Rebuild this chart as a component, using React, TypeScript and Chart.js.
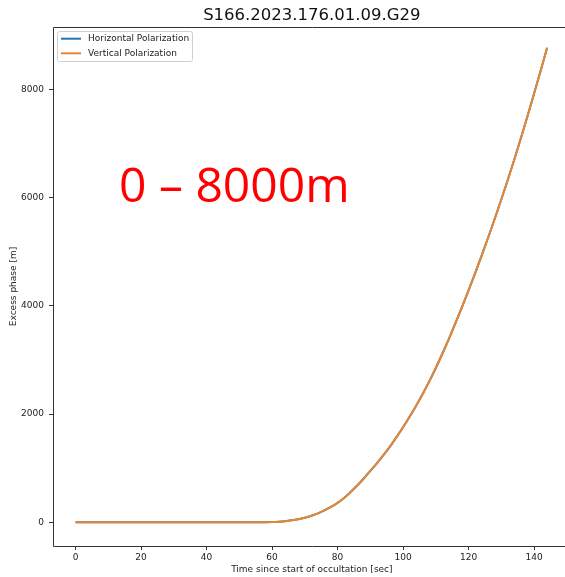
import { useEffect, useRef } from 'react';
import { Chart, registerables } from 'chart.js';

Chart.register(...registerables);

const TITLE = 'S166.2023.176.01.09.G29';
const X_LABEL = 'Time since start of occultation [sec]';
const Y_LABEL = 'Excess phase [m]';
const SERIES_NAMES = ['Horizontal Polarization', 'Vertical Polarization'];
const SERIES_COLORS = ['#1f77b4', '#ea8530'];
const ANNOTATION = '0 \u2013 8000m';

const timeSec = [
  0, 4, 8, 12, 16, 20, 24, 28, 32, 36, 40, 44, 48, 52, 56,
  58, 60, 62, 64, 66, 68, 70, 72, 74, 76, 78, 80, 82, 84, 86, 88, 90,
  92, 94, 96, 98, 100, 102, 104, 106, 108, 110, 112, 114, 116, 118, 120,
  122, 124, 126, 128, 130, 132, 134, 136, 138, 140, 142, 144,
];

const verticalPhase = [
  0, 0, 0, 0, 0, 0, 0, 0, 0, 0, 0, 0, 0, 0, 0,
  1, 4, 10, 20, 36, 57, 85, 120, 165, 220, 285, 360, 450, 560, 680, 810, 950,
  1090, 1240, 1400, 1575, 1758, 1952, 2156, 2372, 2604, 2852, 3116, 3392, 3680, 3978, 4286,
  4602, 4928, 5264, 5610, 5966, 6332, 6710, 7102, 7506, 7920, 8342, 8770,
];

const horizontalPhase = [
  0, 0, 0, 0, 0, 0, 0, 0, 0, 0, 0, 0, 0, 0, 0,
  1, 4, 10, 20, 36, 57, 85, 120, 165, 220, 285, 360, 450, 560, 680, 810, 950,
  1090, 1240, 1400, 1575, 1758, 1952, 2156, 2372, 2604, 2852, 3116, 3392, 3680, 3978, 4286,
  4602, 4928, 5264, 5610, 5966, 6332, 6710, 7102, 7506, 7920, 8342, 8770,
];

const xTicks = [0, 20, 40, 60, 80, 100, 120, 140];
const yTicks = [0, 2000, 4000, 6000, 8000];

const X_MIN = -6.9;
const X_MAX = 151.2;
const Y_MIN = -438;
const Y_MAX = 9155;

const FONT = '"DejaVu Sans", sans-serif';
const TEXT_COLOR = '#222';

const decorPlugin = {
  id: 'decor',
  afterDatasetsDraw(chart: any) {
    const { ctx, chartArea } = chart;
    const { left, top, right, bottom } = chartArea;
    ctx.save();
    // spines
    ctx.strokeStyle = '#333';
    ctx.lineWidth = 1;
    ctx.beginPath();
    ctx.moveTo(left + 0.5, bottom + 0.5);
    ctx.lineTo(left + 0.5, top + 0.5);
    ctx.lineTo(right + 0.5, top + 0.5);
    ctx.lineTo(right + 0.5, bottom + 0.5);
    ctx.lineTo(left + 0.5, bottom + 0.5);
    ctx.stroke();

    // legend
    const bx = left + 4;
    const by = top + 4;
    const bw = 135;
    const bh = 30;
    ctx.beginPath();
    ctx.roundRect(bx + 0.5, by + 0.5, bw, bh, 2);
    ctx.fillStyle = 'rgba(255,255,255,0.8)';
    ctx.fill();
    ctx.strokeStyle = '#d0d0d0';
    ctx.stroke();
    ctx.font = `9px ${FONT}`;
    ctx.textBaseline = 'middle';
    ctx.textAlign = 'left';
    SERIES_NAMES.forEach((name, i) => {
      const y = by + 7.7 + i * 14.6;
      ctx.strokeStyle = SERIES_COLORS[i];
      ctx.lineWidth = 2;
      ctx.beginPath();
      ctx.moveTo(bx + 4, y);
      ctx.lineTo(bx + 24, y);
      ctx.stroke();
      ctx.fillStyle = TEXT_COLOR;
      ctx.fillText(name, bx + 31, y);
    });

    // annotation
    ctx.font = '48px "Open Sans", sans-serif';
    ctx.fillStyle = '#ff0000';
    ctx.textBaseline = 'alphabetic';
    ctx.fillText(ANNOTATION, 119, 202);

    // title
    ctx.font = `16.5px ${FONT}`;
    ctx.fillStyle = '#111';
    ctx.textAlign = 'center';
    ctx.textBaseline = 'middle';
    ctx.fillText(TITLE, (left + right) / 2, 16);
    ctx.restore();
  },
};

export default function App() {
  const canvasRef = useRef<HTMLCanvasElement | null>(null);

  useEffect(() => {
    const canvas = canvasRef.current;
    if (!canvas) return;
    const chart = new Chart(canvas, {
      type: 'line',
      data: {
        datasets: [
          {
            label: SERIES_NAMES[0],
            data: timeSec.map((t, i) => ({ x: t, y: horizontalPhase[i] })),
            borderColor: SERIES_COLORS[0],
            borderWidth: 2,
            pointRadius: 0,
            cubicInterpolationMode: 'monotone',
            order: 1,
          },
          {
            label: SERIES_NAMES[1],
            data: timeSec.map((t, i) => ({ x: t, y: verticalPhase[i] })),
            borderColor: SERIES_COLORS[1],
            borderWidth: 2,
            pointRadius: 0,
            cubicInterpolationMode: 'monotone',
            order: 0,
          },
        ],
      },
      options: {
        responsive: false,
        animation: false,
        devicePixelRatio: 1,
        layout: { padding: { left: 0, top: 27, right: 9.3, bottom: 0 } },
        plugins: {
          legend: { display: false },
          title: { display: false },
          tooltip: { enabled: false },
        },
        scales: {
          x: {
            type: 'linear',
            min: X_MIN,
            max: X_MAX,
            afterFit: (scale: any) => {
              scale.height = 31;
            },
            afterBuildTicks: (scale: any) => {
              scale.ticks = xTicks.map((v) => ({ value: v }));
            },
            ticks: {
              font: { family: FONT, size: 9 },
              color: TEXT_COLOR,
              padding: 2,
              maxRotation: 0,
              autoSkip: false,
            },
            grid: {
              drawOnChartArea: false,
              drawTicks: true,
              tickLength: 4,
              tickColor: '#333',
            },
            border: { display: false },
            title: {
              display: true,
              text: X_LABEL,
              font: { family: FONT, size: 9 },
              color: TEXT_COLOR,
              padding: { top: 0, bottom: 2 },
            },
          },
          y: {
            type: 'linear',
            min: Y_MIN,
            max: Y_MAX,
            afterFit: (scale: any) => {
              scale.width = 53;
            },
            afterBuildTicks: (scale: any) => {
              scale.ticks = yTicks.map((v) => ({ value: v }));
            },
            ticks: {
              font: { family: FONT, size: 9 },
              color: TEXT_COLOR,
              padding: 5,
              autoSkip: false,
              callback: (v: any) => String(v),
            },
            grid: {
              drawOnChartArea: false,
              drawTicks: true,
              tickLength: 4,
              tickColor: '#333',
            },
            border: { display: false },
            title: {
              display: true,
              text: Y_LABEL,
              font: { family: FONT, size: 9 },
              color: TEXT_COLOR,
              padding: { top: 8, bottom: 0 },
            },
          },
        },
      },
      plugins: [decorPlugin],
    });
    return () => chart.destroy();
  }, []);

  return (
    <div
      style={{
        position: 'fixed',
        left: 0,
        top: 0,
        width: 565,
        height: 577,
        overflow: 'hidden',
        background: '#fff',
      }}
    >
      <canvas
        ref={canvasRef}
        width={580}
        height={577}
        style={{ display: 'block', width: 580, height: 577 }}
      />
    </div>
  );
}
